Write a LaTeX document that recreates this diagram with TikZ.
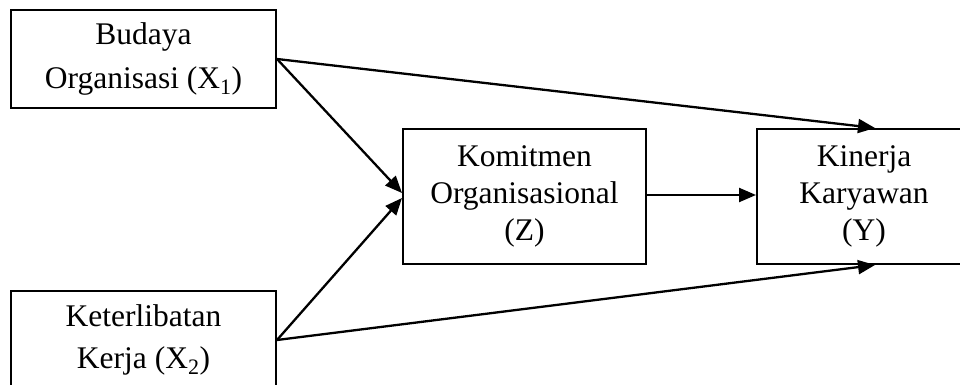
\documentclass[tikz,border=0pt]{standalone}
\usepackage{fontspec}
\setmainfont{Liberation Serif}
\usetikzlibrary{arrows.meta}

\begin{document}
\begin{tikzpicture}[x=1pt, y=1pt,
  box/.style={draw, line width=2pt, align=center, inner sep=0pt,
    font=\fontsize{31.5}{37}\selectfont},
  arr/.style={line width=2.3pt, -{Triangle[length=17pt,width=14pt]}}]
  \useasboundingbox (0,0) rectangle (960,385);
  \node[box, minimum width=265pt, minimum height=98pt,
    font=\fontsize{31.5}{44}\selectfont] (X1) at (143.5,326)
    {Budaya\\Organisasi (X\textsubscript{1})};
  \node[box, minimum width=265pt, minimum height=98pt,
    font=\fontsize{31.5}{42}\selectfont] (X2) at (143.5,45)
    {Keterlibatan\\Kerja (X\textsubscript{2})};
  \node[box, minimum width=243pt, minimum height=135pt] (Z) at (524.5,188.5)
    {Komitmen\\Organisasional\\(Z)};
  \node[box, minimum width=214pt, minimum height=135pt] (Y) at (864,188.5)
    {Kinerja\\Karyawan\\(Y)};
  \draw[arr] (X1.east) -- ([yshift=3.5pt]Z.west);
  \draw[arr] (X1.east) -- ([xshift=11pt]Y.north);
  \draw[arr] (X2.east) -- ([yshift=-1.5pt]Z.west);
  \draw[arr] (X2.east) -- ([xshift=11pt]Y.south);
  \draw[arr] ([yshift=1.5pt]Z.east) -- ([yshift=1.5pt]Y.west);
\end{tikzpicture}
\end{document}
